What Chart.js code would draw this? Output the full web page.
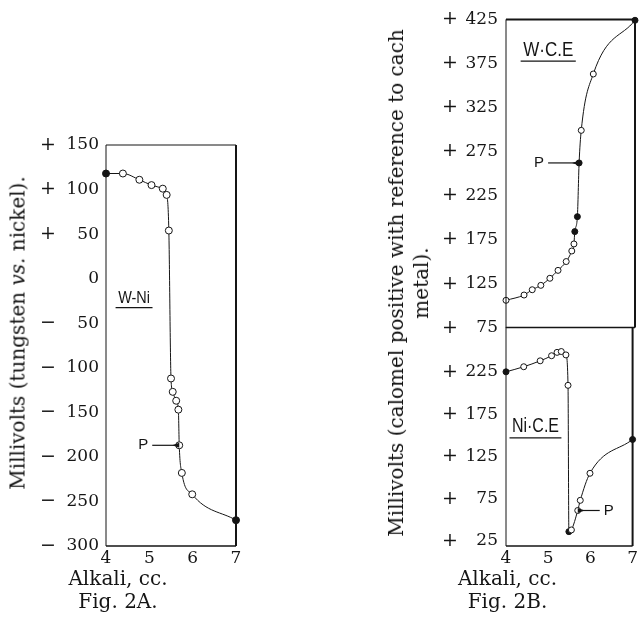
<!DOCTYPE html>
<html>
<head>
<meta charset="utf-8">
<script src="https://cdn.jsdelivr.net/npm/chart.js@4.4.1/dist/chart.umd.min.js"></script>
<style>
    html, body { margin: 0; padding: 0; background: #fff; }
    #wrap { position: relative; width: 640px; height: 636px; overflow: hidden; }
    canvas { position: absolute; }
    .ytitle {
        position: absolute;
        font-family: "DejaVu Serif", serif;
        font-size: 20px;
        color: #111;
        white-space: nowrap;
        text-align: center;
        line-height: 25px;
        transform: translate(-50%, -50%) rotate(-90deg);
    }
</style>
</head>
<body>
<div id="wrap">
    <canvas id="chartA" width="246" height="636" style="left:0;top:0;width:246px;height:636px"></canvas>
    <canvas id="chartBup" width="260" height="347" style="left:380px;top:0;width:260px;height:347px"></canvas>
    <canvas id="chartBlo" width="260" height="339" style="left:380px;top:297px;width:260px;height:339px"></canvas>
    <div class="ytitle" style="left:18px;top:333px">Millivolts (tungsten <i>vs.</i> nickel).</div>
    <div class="ytitle" style="left:409px;top:283px">Millivolts (calomel positive with reference to cach<br>metal).</div>
</div>
<script>
(() => {
    // Fig. 2A: tungsten vs. nickel
    const wniX = [4.00, 4.39, 4.77, 5.05, 5.31, 5.40, 5.45, 5.50, 5.54, 5.62, 5.67, 5.69, 5.75, 5.99, 7.00];
    const wniY = [118, 118, 111, 105, 101, 94, 54, -112, -127, -137, -147, -187, -218, -242, -271];
    const wniTicks = [150, 100, 50, 0, -50, -100, -150, -200, -250, -300];

    // Fig. 2B upper: tungsten vs. calomel electrode
    const wceX = [4.00, 4.42, 4.61, 4.81, 5.02, 5.21, 5.40, 5.53, 5.58, 5.60, 5.66, 5.70, 5.75, 6.03, 7.00];
    const wceY = [106, 112, 118, 123, 131, 140, 150, 162, 170, 184, 201, 262, 299, 363, 424];
    const wceTicks = [425, 375, 325, 275, 225, 175, 125, 75];

    // Fig. 2B lower: nickel vs. calomel electrode
    const niceX = [4.00, 4.42, 4.81, 5.08, 5.21, 5.31, 5.42, 5.47, 5.49, 5.55, 5.70, 5.76, 5.99, 7.00];
    const niceY = [225, 231, 238, 244, 248, 249, 245, 209, 36, 38, 61, 73, 105, 145];
    const niceTicks = [225, 175, 125, 75, 25];

    const xTicks = [4, 5, 6, 7];

    const INK = '#151515';
    const SERIF = '"DejaVu Serif", serif';
    const SANS = '"Liberation Sans", sans-serif';

    Chart.defaults.color = INK;
    Chart.defaults.font.family = SERIF;

    const pts = (xs, ys) => xs.map((x, i) => ({ x, y: ys[i] }));
    const setTicks = (vals) => (s) => { s.ticks = vals.map(v => ({ value: v })); };

    // box around the plot, labels and "P" arrows
    const frame = {
        id: 'frame',
        afterDatasetsDraw(chart, args, opts) {
            const { ctx, chartArea: a, scales } = chart;
            const [wt, wr, wb, wl] = opts.widths;
            ctx.save();
            ctx.strokeStyle = INK;
            ctx.fillStyle = INK;
            const seg = (w, x1, y1, x2, y2) => {
                if (!w) return;
                ctx.lineWidth = w;
                ctx.beginPath();
                ctx.moveTo(x1, y1);
                ctx.lineTo(x2, y2);
                ctx.stroke();
            };
            seg(wt, a.left, a.top, a.right, a.top);
            seg(wr, a.right, a.top, a.right, a.bottom);
            seg(wb, a.left, a.bottom, a.right, a.bottom);
            seg(wl, a.left, a.top, a.left, a.bottom);

            (opts.labels || []).forEach(l => {
                const px = scales.x.getPixelForValue(l.x);
                const py = scales[l.axis].getPixelForValue(l.y);
                ctx.save();
                ctx.translate(px, py);
                ctx.scale(l.squeeze, 1);
                ctx.font = `${l.size}px ${SANS}`;
                ctx.textBaseline = 'middle';
                ctx.textAlign = 'left';
                ctx.fillText(l.text, 0, 0);
                const w = ctx.measureText(l.text).width;
                ctx.lineWidth = 1.2;
                ctx.beginPath();
                ctx.moveTo(-3, l.size * 0.55);
                ctx.lineTo(w + 3, l.size * 0.55);
                ctx.stroke();
                ctx.restore();
            });

            (opts.arrows || []).forEach(p => {
                const px = scales.x.getPixelForValue(p.x);
                const py = scales[p.axis].getPixelForValue(p.y);
                const dir = p.side === 'left' ? -1 : 1;
                const tip = px + dir * 7;
                const tail = px + dir * (p.len + 7);
                ctx.lineWidth = 1.2;
                ctx.beginPath();
                ctx.moveTo(tail, py);
                ctx.lineTo(tip - dir * 4, py);
                ctx.stroke();
                ctx.beginPath();
                ctx.moveTo(tip, py);
                ctx.lineTo(tip - dir * 7, py - 2.5);
                ctx.lineTo(tip - dir * 7, py + 2.5);
                ctx.closePath();
                ctx.fill();
                ctx.font = `15px ${SANS}`;
                ctx.textBaseline = 'middle';
                ctx.textAlign = 'center';
                ctx.fillText('P', tail + dir * 9, py);
            });
            ctx.restore();
        }
    };

    const lineSet = (data, filled, radius, yAxisID) => ({
        data,
        yAxisID,
        borderColor: INK,
        borderWidth: 1,
        cubicInterpolationMode: 'monotone',
        pointRadius: radius,
        pointBorderWidth: 1,
        pointBorderColor: INK,
        pointBackgroundColor: (c) => filled.includes(c.dataIndex) ? INK : '#fff',
        clip: false
    });

    const xScale = (display) => ({
        type: 'linear',
        display,
        min: 4,
        max: 7,
        afterBuildTicks: setTicks(xTicks),
        afterFit: (s) => { if (display) s.height = 20; },
        grid: { display: false, drawTicks: false },
        border: { display: false },
        ticks: { padding: 2, font: { size: 17 } }
    });

    const numAxis = (min, max, ticks, width, pad) => ({
        type: 'linear',
        position: 'left',
        weight: 0,
        min,
        max,
        afterBuildTicks: setTicks(ticks),
        afterFit: (s) => { s.width = width; },
        grid: { display: false, drawTicks: false },
        border: { display: false },
        ticks: { padding: pad, font: { size: 17 }, callback: (v) => String(Math.abs(v)) }
    });

    const signAxis = (min, max, ticks, width, pad) => ({
        type: 'linear',
        position: 'left',
        weight: 1,
        min,
        max,
        afterBuildTicks: setTicks(ticks),
        afterFit: (s) => { s.width = width; },
        grid: { display: false, drawTicks: false },
        border: { display: false },
        ticks: { padding: pad, font: { size: 19 }, callback: (v) => v > 0 ? '+' : (v < 0 ? '\u2212' : '') }
    });

    const caption = (lines) => ({
        display: true,
        position: 'bottom',
        text: lines,
        color: INK,
        font: { family: SERIF, size: 20, weight: 'normal', lineHeight: 1.15 },
        padding: { top: 2, bottom: 22 }
    });

    const base = {
        responsive: false,
        animation: false,
        events: []
    };

    // Fig. 2A
    new Chart(document.getElementById('chartA'), {
        type: 'line',
        data: { datasets: [lineSet(pts(wniX, wniY), [0, 14], 3.5, 'y')] },
        options: {
            ...base,
            layout: { padding: { top: 145, right: 10, left: 0, bottom: 0 } },
            scales: {
                x: xScale(true),
                y: numAxis(-300, 150, wniTicks, 46, 7),
                ys: signAxis(-300, 150, wniTicks, 60, 4)
            },
            plugins: {
                legend: { display: false },
                tooltip: { enabled: false },
                title: caption(['Alkali, cc.', 'Fig. 2A.']),
                frame: {
                    widths: [1, 2, 1.5, 1],
                    labels: [{ text: 'W-Ni', x: 4.28, y: -22, axis: 'y', size: 17, squeeze: 0.85 }],
                    arrows: [{ x: 5.69, y: -187, axis: 'y', side: 'left', len: 20 }]
                }
            }
        },
        plugins: [frame]
    });

    // Fig. 2B, upper panel
    new Chart(document.getElementById('chartBup'), {
        type: 'line',
        data: { datasets: [lineSet(pts(wceX, wceY), [9, 10, 11, 14], 3, 'y')] },
        options: {
            ...base,
            layout: { padding: { top: 17, right: 5, left: 0, bottom: 3 } },
            scales: {
                x: xScale(false),
                y: numAxis(75, 425, wceTicks, 40, 8),
                ys: signAxis(75, 425, wceTicks, 86, 8)
            },
            plugins: {
                legend: { display: false },
                tooltip: { enabled: false },
                frame: {
                    widths: [2, 2, 1.5, 1],
                    labels: [{ text: 'W\u00b7C.E', x: 4.40, y: 390, axis: 'y', size: 20, squeeze: 0.85 }],
                    arrows: [{ x: 5.70, y: 262, axis: 'y', side: 'left', len: 24 }]
                }
            }
        },
        plugins: [frame]
    });

    // Fig. 2B, lower panel
    new Chart(document.getElementById('chartBlo'), {
        type: 'line',
        data: { datasets: [lineSet(pts(niceX, niceY), [0, 8, 13], 3, 'y')] },
        options: {
            ...base,
            layout: { padding: { top: 30, right: 5, left: 0, bottom: 0 } },
            scales: {
                x: xScale(true),
                y: numAxis(19, 278, niceTicks, 40, 8),
                ys: signAxis(19, 278, niceTicks, 86, 8)
            },
            plugins: {
                legend: { display: false },
                tooltip: { enabled: false },
                title: caption(['Alkali, cc.', 'Fig. 2B.']),
                frame: {
                    widths: [0, 2, 1.5, 1],
                    labels: [{ text: 'Ni\u00b7C.E', x: 4.14, y: 160, axis: 'y', size: 20, squeeze: 0.8 }],
                    arrows: [{ x: 5.70, y: 61, axis: 'y', side: 'right', len: 15 }]
                }
            }
        },
        plugins: [frame]
    });
})();
</script>
</body>
</html>
